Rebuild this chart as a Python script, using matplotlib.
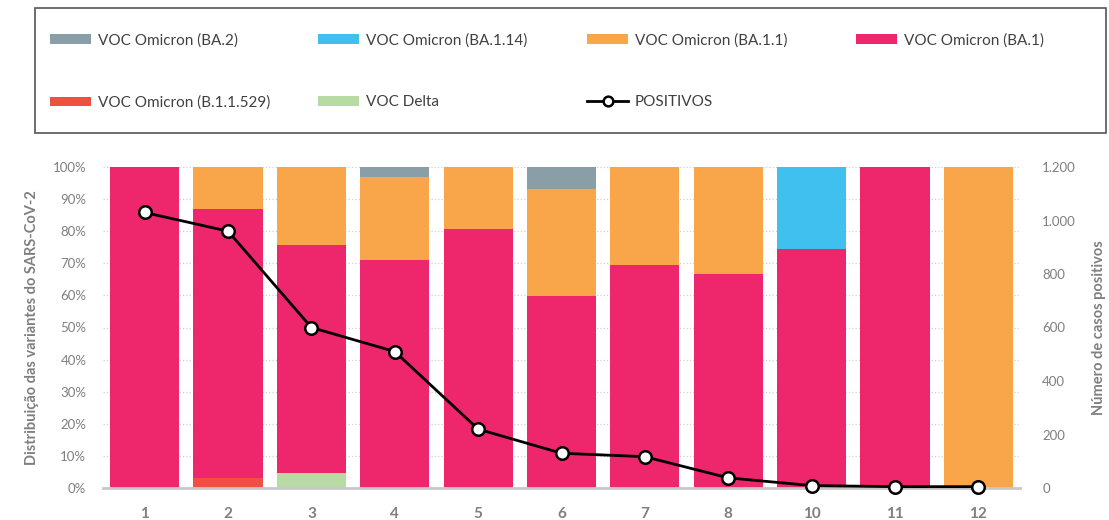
import numpy as np
import matplotlib
matplotlib.use("Agg")
import matplotlib.pyplot as plt
from matplotlib.lines import Line2D
from matplotlib.patches import Patch, Rectangle

plt.rcParams['font.family'] = ['Lato', 'DejaVu Sans']

# semanas / amostras
categories = ['1', '2', '3', '4', '5', '6', '7', '8', '10', '11', '12']

# distribuição das variantes (%)
delta     = [0, 0,    4.8, 0,    0,    0,  0,    0,    0,  0,   0]
b11529    = [0, 3.1,  0,   0,    0,    0,  0,    0,    0,  0,   0]
ba1       = [100, 83.8, 71.0, 71.1, 80.8, 59.8, 69.6, 66.7, 74.6, 100, 0]
ba11      = [0, 13.1, 24.2, 25.7, 19.2, 33.2, 30.4, 33.3, 0,  0,   100]
ba114     = [0, 0,    0,   0,    0,    0,  0,    0,    25.4, 0, 0]
ba2       = [0, 0,    0,   3.2,  0,    7.0, 0,    0,    0,  0,   0]

# número de casos positivos
positivos = [1030, 960, 600, 510, 220, 130, 117, 38, 9, 5, 5]

colors = {
    'VOC Delta': '#b7dba3',
    'VOC Omicron (B.1.1.529)': '#ef5041',
    'VOC Omicron (BA.1)': '#ee266c',
    'VOC Omicron (BA.1.1)': '#f9a54a',
    'VOC Omicron (BA.1.14)': '#3fc0ee',
    'VOC Omicron (BA.2)': '#8a9ea7',
}

series = [
    ('VOC Delta', delta),
    ('VOC Omicron (B.1.1.529)', b11529),
    ('VOC Omicron (BA.1)', ba1),
    ('VOC Omicron (BA.1.1)', ba11),
    ('VOC Omicron (BA.1.14)', ba114),
    ('VOC Omicron (BA.2)', ba2),
]

grey = '#7f7f7f'
W, H = 1109, 520

fig = plt.figure(figsize=(W / 100, H / 100), dpi=100)
ax = fig.add_axes([103 / W, 1 - 488 / H, (1020 - 103) / W, (488 - 167) / H])

x = np.arange(len(categories))
bottom = np.zeros(len(categories))
for name, vals in series:
    vals = np.array(vals, dtype=float)
    ax.bar(x, vals, 0.83, bottom=bottom, color=colors[name], zorder=2)
    bottom += vals

ax.set_xlim(-0.5, len(categories) - 0.5)
ax.set_ylim(0, 100)
ax.set_yticks(np.arange(0, 101, 10))
ax.set_yticklabels([f'{v}%' for v in range(0, 101, 10)])
ax.set_xticks(x)
ax.set_xticklabels(categories, fontweight='bold')
ax.grid(axis='y', color='#d0d0d0', linestyle=':', linewidth=0.9, zorder=0)
for s in ['top', 'right', 'left']:
    ax.spines[s].set_visible(False)
ax.spines['bottom'].set_color('#c8c8c8')
ax.spines['bottom'].set_linewidth(2)
ax.tick_params(axis='y', length=0, colors=grey, labelsize=9.5, pad=12)
ax.tick_params(axis='x', length=0, colors=grey, labelsize=11, pad=14)
ax.set_ylabel('Distribuição das variantes do SARS-CoV-2', color=grey,
              fontweight='bold', fontsize=10.5, labelpad=10)

ax2 = ax.twinx()
ax2.plot(x, positivos, color='black', linewidth=2, marker='o', markersize=9,
         markerfacecolor='white', markeredgecolor='black', markeredgewidth=1.8,
         zorder=5, clip_on=False)
ax2.set_ylim(0, 1200)
ax2.set_yticks(np.arange(0, 1201, 200))
ax2.set_yticklabels(['0', '200', '400', '600', '800', '1.000', '1.200'])
for s in ['top', 'right', 'left', 'bottom']:
    ax2.spines[s].set_visible(False)
ax2.tick_params(axis='y', length=0, colors=grey, labelsize=9.5, pad=16)
ax2.set_ylabel('Número de casos positivos', color=grey, fontweight='bold',
               fontsize=10.5)
ax2.yaxis.set_label_coords((1092 - 103) / (1020 - 103), 0.5)

# legenda: uma caixa com 4 colunas, duas linhas
legend_cols = [
    ['VOC Omicron (BA.2)', 'VOC Omicron (B.1.1.529)'],
    ['VOC Omicron (BA.1.14)', 'VOC Delta'],
    ['VOC Omicron (BA.1.1)', 'POSITIVOS'],
    ['VOC Omicron (BA.1)'],
]
col_x = [50, 318, 587, 856]


def make_handle(name):
    if name == 'POSITIVOS':
        return Line2D([], [], color='black', linewidth=2, marker='o',
                      markersize=7, markerfacecolor='white',
                      markeredgecolor='black', markeredgewidth=1.8)
    return Patch(facecolor=colors[name], edgecolor='none')


for cx, names in zip(col_x, legend_cols):
    leg = fig.legend([make_handle(n) for n in names], names, loc='upper left',
                     bbox_to_anchor=(cx / W, 1 - 33 / H), frameon=False,
                     fontsize=11, handlelength=2.7, handleheight=0.6,
                     handletextpad=0.45, labelspacing=3.15, borderpad=0,
                     borderaxespad=0)
    for t in leg.get_texts():
        t.set_color('#404040')

fig.patches.append(Rectangle((35 / W, 1 - 133 / H), (1106 - 35) / W, 125 / H,
                             transform=fig.transFigure, fill=False,
                             edgecolor='#555555', linewidth=1.2))

fig.savefig('out.png', dpi=100)
